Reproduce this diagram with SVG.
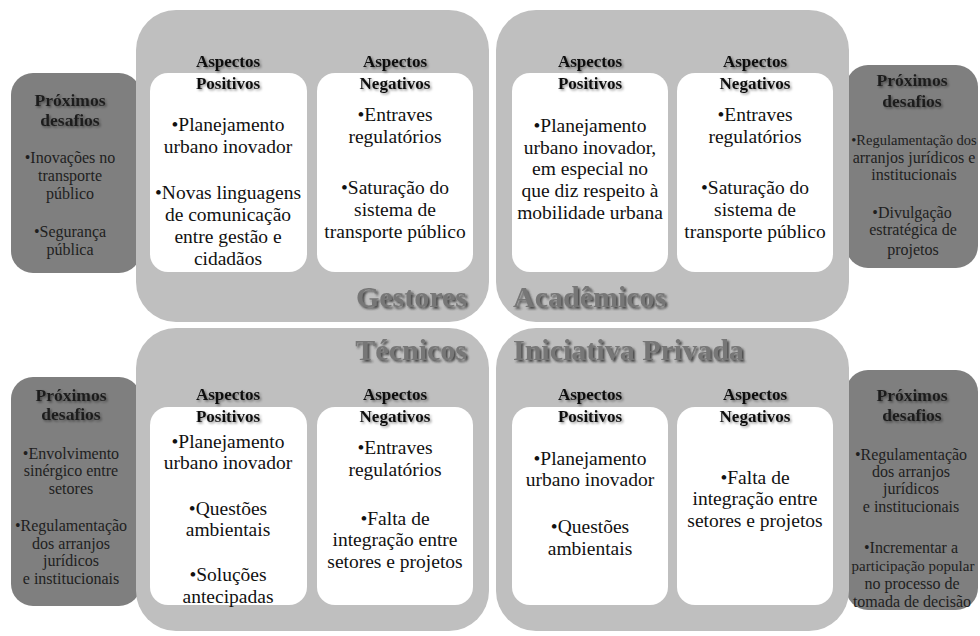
<svg xmlns="http://www.w3.org/2000/svg" width="980" height="636" viewBox="0 0 980 636">
<defs>
<filter id="sh" x="-10%" y="-10%" width="130%" height="140%">
<feDropShadow dx="1.5" dy="1.5" stdDeviation="0.8" flood-color="#000" flood-opacity="0.45"/>
</filter>
<filter id="sh2" x="-10%" y="-10%" width="130%" height="140%">
<feDropShadow dx="2" dy="2" stdDeviation="1" flood-color="#2a2a2a" flood-opacity="0.8"/>
</filter>
</defs>
<style>
.quad{fill:#bfbfbf}
.side{fill:#7f7f7f}
.inner{fill:#ffffff}
text{font-family:"Liberation Serif","Times New Roman",serif;text-anchor:middle}
.hd{font-size:17px;font-weight:bold;fill:#111}
.bd{font-size:19.5px;fill:#111}
.sh{font-size:17.5px;font-weight:bold;fill:#1e1e1e}
.sb{font-size:16px;fill:#1e1e1e}
.ti{font-size:30px;font-weight:bold;fill:#777}
</style>
<rect width="980" height="636" fill="#fff"/>

<g id="side-gestores">
<rect class="side" x="11" y="73" width="130" height="200" rx="22"/>
<text class="sh" filter="url(#sh)" x="70" y="106">Próximos</text>
<text class="sh" filter="url(#sh)" x="70" y="126">desafios</text>
<text class="sb" x="70" y="163">•Inovações no</text>
<text class="sb" x="70" y="181">transporte</text>
<text class="sb" x="70" y="199">público</text>
<text class="sb" x="70" y="237">•Segurança</text>
<text class="sb" x="70" y="255">pública</text>
</g>

<g id="side-academicos">
<rect class="side" x="846" y="65" width="132" height="203" rx="22"/>
<text class="sh" filter="url(#sh)" x="912" y="86">Próximos</text>
<text class="sh" filter="url(#sh)" x="912" y="107">desafios</text>
<text class="sb" x="914" y="145" style="font-size:14.5px">•Regulamentação dos</text>
<text class="sb" x="914" y="163">arranjos jurídicos e</text>
<text class="sb" x="914" y="180">institucionais</text>
<text class="sb" x="912" y="218">•Divulgação</text>
<text class="sb" x="913" y="235">estratégica de</text>
<text class="sb" x="913" y="255">projetos</text>
</g>

<g id="side-tecnicos">
<rect class="side" x="11" y="377" width="130" height="229" rx="22"/>
<text class="sh" filter="url(#sh)" x="71" y="401">Próximos</text>
<text class="sh" filter="url(#sh)" x="71" y="420">desafios</text>
<text class="sb" x="71" y="459">•Envolvimento</text>
<text class="sb" x="71" y="476">sinérgico entre</text>
<text class="sb" x="71" y="494">setores</text>
<text class="sb" x="71" y="531">•Regulamentação</text>
<text class="sb" x="71" y="549">dos arranjos</text>
<text class="sb" x="71" y="566">jurídicos</text>
<text class="sb" x="71" y="584">e institucionais</text>
</g>

<g id="side-iniciativa">
<rect class="side" x="846" y="370" width="132" height="240" rx="22"/>
<text class="sh" filter="url(#sh)" x="912" y="401">Próximos</text>
<text class="sh" filter="url(#sh)" x="912" y="421">desafios</text>
<text class="sb" x="911" y="460">•Regulamentação</text>
<text class="sb" x="911" y="477">dos arranjos</text>
<text class="sb" x="911" y="494">jurídicos</text>
<text class="sb" x="911" y="512">e institucionais</text>
<text class="sb" x="911" y="553">•Incrementar a</text>
<text class="sb" x="913" y="571" style="font-size:15px">participação popular</text>
<text class="sb" x="912" y="589">no processo de</text>
<text class="sb" x="912" y="607">tomada de decisão</text>
</g>

<g id="gestores">
<rect class="quad" x="136" y="10" width="353" height="312" rx="40"/>
<rect class="inner" x="150" y="73" width="157" height="199" rx="18"/>
<rect class="inner" x="317" y="73" width="156" height="199" rx="18"/>
<text class="hd" filter="url(#sh)" x="228" y="67">Aspectos</text>
<text class="hd" filter="url(#sh)" x="228" y="89">Positivos</text>
<text class="hd" filter="url(#sh)" x="395" y="67">Aspectos</text>
<text class="hd" filter="url(#sh)" x="395" y="89">Negativos</text>
<text class="bd" x="228" y="131">•Planejamento</text>
<text class="bd" x="228" y="153">urbano inovador</text>
<text class="bd" x="228" y="199">•Novas linguagens</text>
<text class="bd" x="228" y="221">de comunicação</text>
<text class="bd" x="228" y="243">entre gestão  e</text>
<text class="bd" x="228" y="265">cidadãos</text>
<text class="bd" x="395" y="121">•Entraves</text>
<text class="bd" x="395" y="143">regulatórios</text>
<text class="bd" x="395" y="194">•Saturação do</text>
<text class="bd" x="395" y="216">sistema de</text>
<text class="bd" x="395" y="238">transporte público</text>
<text class="ti" filter="url(#sh2)" x="467" y="307" style="text-anchor:end">Gestores</text>
</g>

<g id="academicos">
<rect class="quad" x="496" y="10" width="353" height="312" rx="40"/>
<rect class="inner" x="512" y="73" width="156" height="199" rx="18"/>
<rect class="inner" x="677" y="73" width="156" height="199" rx="18"/>
<text class="hd" filter="url(#sh)" x="590" y="67">Aspectos</text>
<text class="hd" filter="url(#sh)" x="590" y="89">Positivos</text>
<text class="hd" filter="url(#sh)" x="755" y="67">Aspectos</text>
<text class="hd" filter="url(#sh)" x="755" y="89">Negativos</text>
<text class="bd" x="590" y="132">•Planejamento</text>
<text class="bd" x="590" y="154">urbano inovador,</text>
<text class="bd" x="590" y="175">em especial no</text>
<text class="bd" x="590" y="197">que diz respeito à</text>
<text class="bd" x="590" y="219">mobilidade urbana</text>
<text class="bd" x="755" y="121">•Entraves</text>
<text class="bd" x="755" y="143">regulatórios</text>
<text class="bd" x="755" y="194">•Saturação do</text>
<text class="bd" x="755" y="216">sistema de</text>
<text class="bd" x="755" y="238">transporte público</text>
<text class="ti" filter="url(#sh2)" x="513" y="307" style="text-anchor:start">Acadêmicos</text>
</g>

<g id="tecnicos">
<rect class="quad" x="136" y="328" width="353" height="303" rx="40"/>
<rect class="inner" x="150" y="407" width="157" height="198" rx="18"/>
<rect class="inner" x="317" y="407" width="156" height="198" rx="18"/>
<text class="hd" filter="url(#sh)" x="228" y="400">Aspectos</text>
<text class="hd" filter="url(#sh)" x="228" y="422">Positivos</text>
<text class="hd" filter="url(#sh)" x="395" y="400">Aspectos</text>
<text class="hd" filter="url(#sh)" x="395" y="422">Negativos</text>
<text class="bd" x="228" y="448">•Planejamento</text>
<text class="bd" x="228" y="469">urbano inovador</text>
<text class="bd" x="228" y="515">•Questões</text>
<text class="bd" x="228" y="536">ambientais</text>
<text class="bd" x="228" y="581">•Soluções</text>
<text class="bd" x="228" y="603">antecipadas</text>
<text class="bd" x="395" y="454">•Entraves</text>
<text class="bd" x="395" y="476">regulatórios</text>
<text class="bd" x="395" y="525">•Falta de</text>
<text class="bd" x="395" y="546">integração  entre</text>
<text class="bd" x="395" y="568">setores e projetos</text>
<text class="ti" filter="url(#sh2)" x="467" y="360" style="text-anchor:end">Técnicos</text>
</g>

<g id="iniciativa-privada">
<rect class="quad" x="496" y="328" width="353" height="303" rx="40"/>
<rect class="inner" x="512" y="407" width="156" height="198" rx="18"/>
<rect class="inner" x="677" y="407" width="156" height="198" rx="18"/>
<text class="hd" filter="url(#sh)" x="590" y="400">Aspectos</text>
<text class="hd" filter="url(#sh)" x="590" y="422">Positivos</text>
<text class="hd" filter="url(#sh)" x="755" y="400">Aspectos</text>
<text class="hd" filter="url(#sh)" x="755" y="422">Negativos</text>
<text class="bd" x="590" y="465">•Planejamento</text>
<text class="bd" x="590" y="486">urbano inovador</text>
<text class="bd" x="590" y="533">•Questões</text>
<text class="bd" x="590" y="555">ambientais</text>
<text class="bd" x="755" y="484">•Falta de</text>
<text class="bd" x="755" y="505">integração  entre</text>
<text class="bd" x="755" y="527">setores e projetos</text>
<text class="ti" filter="url(#sh2)" x="513" y="360" style="text-anchor:start">Iniciativa Privada</text>
</g>

<g id="connectors"></g>
</svg>
